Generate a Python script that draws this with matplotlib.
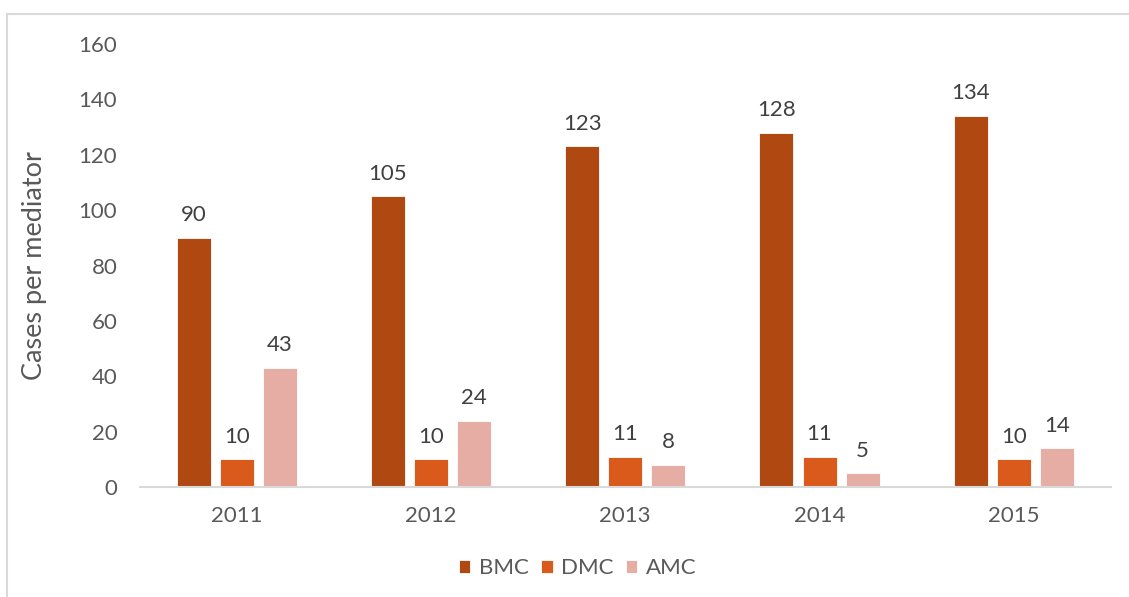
import matplotlib
matplotlib.use("Agg")
import matplotlib.pyplot as plt
import numpy as np
from matplotlib.patches import Rectangle

plt.rcParams["font.family"] = ["Lato", "DejaVu Sans"]

years = ["2011", "2012", "2013", "2014", "2015"]
series_names = ["BMC", "DMC", "AMC"]
bmc = [90, 105, 123, 128, 134]
dmc = [10, 10, 11, 11, 10]
amc = [43, 24, 8, 5, 14]
colors = ["#B04812", "#D95A1A", "#E6ADA4"]

fig = plt.figure(figsize=(11.29, 5.97), dpi=100)
# light frame around the chart area
fig.patches.append(Rectangle((7 / 1129, -0.05), 1.1, 1 - 14 / 597 + 0.05,
                             transform=fig.transFigure, fill=False,
                             edgecolor="#d9d9d9", linewidth=1.5))

ax = fig.add_axes([139.5 / 1129, 1 - 487 / 597, 971.5 / 1129, 443 / 597])

x = np.arange(len(years))
width = 0.175
step = 0.222
for i, (name, vals) in enumerate(zip(series_names, [bmc, dmc, amc])):
    bars = ax.bar(x + (i - 1) * step, vals, width, color=colors[i], label=name,
                  edgecolor="white", linewidth=0.6)
    for b, v in zip(bars, vals):
        ax.annotate(str(v), (b.get_x() + b.get_width() / 2, v),
                    xytext=(0, 9), textcoords="offset points",
                    ha="center", va="bottom", fontsize=16, color="#404040")

ax.set_xlim(-0.5, len(years) - 0.5)
ax.set_ylim(0, 160)
ax.set_yticks(range(0, 161, 20))
ax.set_xticks(x)
ax.set_xticklabels(years)
ax.tick_params(axis="both", length=0, labelsize=16, labelcolor="#595959")
ax.tick_params(axis="y", pad=16)
ax.tick_params(axis="x", pad=14)
for s in ["top", "right", "left"]:
    ax.spines[s].set_visible(False)
ax.spines["bottom"].set_color("#d9d9d9")
ax.spines["bottom"].set_linewidth(1.5)

ax.set_ylabel("Cases per mediator", fontsize=19.5, color="#595959")
ax.yaxis.set_label_coords(-0.095, 0.5)

fig.legend(loc="center", bbox_to_anchor=(0.512, 0.048), ncol=3, frameon=False,
           fontsize=16, handlelength=0.5, handleheight=0.5, columnspacing=0.55,
           handletextpad=0.4, labelcolor="#595959")

fig.savefig("out.png", dpi=100)
